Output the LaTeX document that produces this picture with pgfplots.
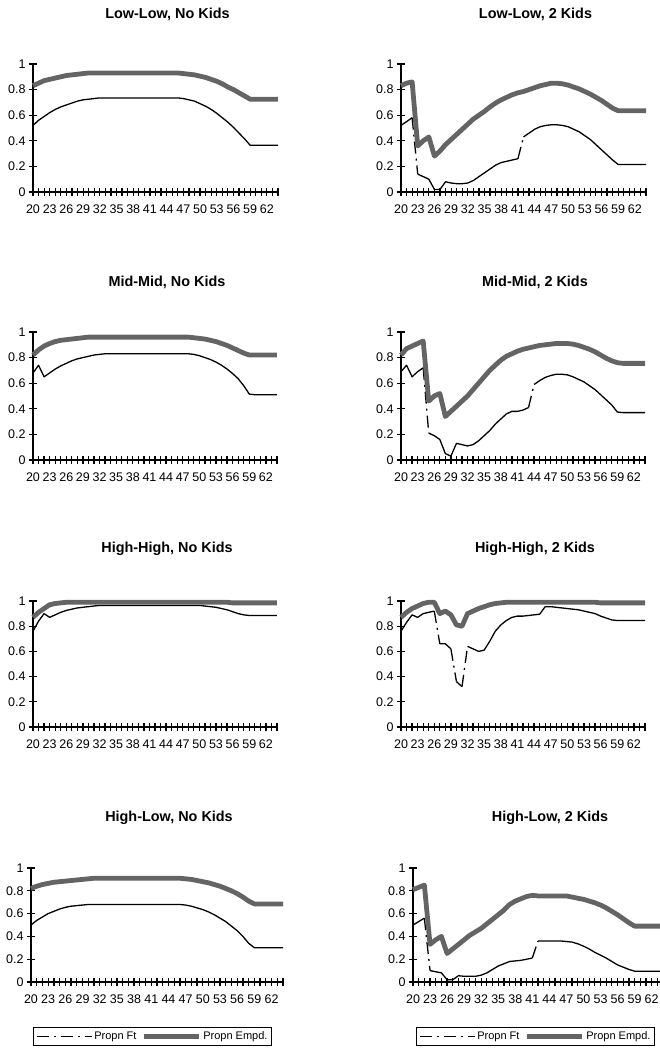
\documentclass[border=0pt]{standalone}
\usepackage{fontspec}
\setmainfont{Liberation Sans}
\usepackage{pgfplots}
\usepackage{pgfplotstable}
\pgfplotsset{compat=1.18}
\definecolor{empgray}{RGB}{100,100,100}

\pgfplotstableread{
age emp ft
20 0.83 0.52
21 0.85 0.56
22 0.87 0.59
23 0.88 0.62
24 0.89 0.645
25 0.90 0.665
26 0.91 0.68
27 0.915 0.695
28 0.92 0.71
29 0.925 0.72
30 0.93 0.725
31 0.93 0.73
32 0.93 0.735
33 0.93 0.735
34 0.93 0.735
35 0.93 0.735
36 0.93 0.735
37 0.93 0.735
38 0.93 0.735
39 0.93 0.735
40 0.93 0.735
41 0.93 0.735
42 0.93 0.735
43 0.93 0.735
44 0.93 0.735
45 0.93 0.735
46 0.93 0.735
47 0.925 0.73
48 0.92 0.72
49 0.915 0.71
50 0.905 0.69
51 0.895 0.67
52 0.88 0.645
53 0.865 0.615
54 0.845 0.58
55 0.82 0.545
56 0.80 0.505
57 0.775 0.46
58 0.75 0.415
59 0.725 0.365
60 0.725 0.365
61 0.725 0.365
62 0.725 0.365
63 0.725 0.365
64 0.725 0.365
}\LLzero

\pgfplotstableread{
age emp ft
20 0.83 0.52
21 0.85 0.55
22 0.86 0.58
23 0.36 0.14
24 0.40 0.12
25 0.43 0.10
26 0.28 0.02
27 0.32 0.02
28 0.37 0.08
29 0.41 0.07
30 0.45 0.065
31 0.49 0.065
32 0.53 0.07
33 0.57 0.09
34 0.60 0.12
35 0.63 0.15
36 0.665 0.18
37 0.695 0.21
38 0.72 0.23
39 0.74 0.24
40 0.76 0.25
41 0.775 0.26
42 0.785 0.43
43 0.80 0.46
44 0.815 0.49
45 0.83 0.51
46 0.84 0.52
47 0.85 0.525
48 0.85 0.525
49 0.845 0.52
50 0.835 0.51
51 0.82 0.49
52 0.805 0.47
53 0.785 0.44
54 0.765 0.41
55 0.74 0.37
56 0.715 0.33
57 0.685 0.29
58 0.655 0.25
59 0.635 0.215
60 0.635 0.215
61 0.635 0.215
62 0.635 0.215
63 0.635 0.215
64 0.635 0.215
}\LLtwo

\pgfplotstableread{
age emp ft
20 0.82 0.68
21 0.86 0.74
22 0.89 0.65
23 0.91 0.68
24 0.925 0.71
25 0.935 0.735
26 0.94 0.755
27 0.945 0.775
28 0.95 0.79
29 0.955 0.80
30 0.96 0.81
31 0.96 0.82
32 0.96 0.825
33 0.96 0.83
34 0.96 0.83
35 0.96 0.83
36 0.96 0.83
37 0.96 0.83
38 0.96 0.83
39 0.96 0.83
40 0.96 0.83
41 0.96 0.83
42 0.96 0.83
43 0.96 0.83
44 0.96 0.83
45 0.96 0.83
46 0.96 0.83
47 0.96 0.83
48 0.96 0.83
49 0.955 0.825
50 0.95 0.815
51 0.945 0.80
52 0.935 0.785
53 0.925 0.765
54 0.91 0.74
55 0.895 0.71
56 0.875 0.675
57 0.855 0.635
58 0.835 0.58
59 0.82 0.515
60 0.82 0.51
61 0.82 0.51
62 0.82 0.51
63 0.82 0.51
64 0.82 0.51
}\MMzero

\pgfplotstableread{
age emp ft
20 0.82 0.69
21 0.87 0.74
22 0.89 0.65
23 0.91 0.69
24 0.93 0.72
25 0.46 0.21
26 0.50 0.19
27 0.52 0.16
28 0.34 0.05
29 0.38 0.03
30 0.42 0.13
31 0.46 0.12
32 0.50 0.11
33 0.55 0.12
34 0.60 0.15
35 0.65 0.19
36 0.70 0.23
37 0.74 0.28
38 0.78 0.32
39 0.81 0.36
40 0.83 0.38
41 0.85 0.38
42 0.865 0.39
43 0.875 0.41
44 0.885 0.59
45 0.895 0.62
46 0.90 0.645
47 0.905 0.66
48 0.91 0.67
49 0.91 0.67
50 0.91 0.665
51 0.905 0.65
52 0.895 0.63
53 0.88 0.61
54 0.865 0.58
55 0.845 0.55
56 0.82 0.51
57 0.795 0.47
58 0.775 0.43
59 0.76 0.375
60 0.755 0.37
61 0.755 0.37
62 0.755 0.37
63 0.755 0.37
64 0.755 0.37
}\MMtwo

\pgfplotstableread{
age emp ft
20 0.87 0.76
21 0.91 0.84
22 0.94 0.90
23 0.97 0.87
24 0.98 0.89
25 0.985 0.91
26 0.99 0.925
27 0.99 0.935
28 0.99 0.945
29 0.99 0.95
30 0.99 0.955
31 0.99 0.96
32 0.99 0.965
33 0.99 0.965
34 0.99 0.965
35 0.99 0.965
36 0.99 0.965
37 0.99 0.965
38 0.99 0.965
39 0.99 0.965
40 0.99 0.965
41 0.99 0.965
42 0.99 0.965
43 0.99 0.965
44 0.99 0.965
45 0.99 0.965
46 0.99 0.965
47 0.99 0.965
48 0.99 0.965
49 0.99 0.965
50 0.99 0.965
51 0.99 0.96
52 0.99 0.955
53 0.99 0.95
54 0.99 0.94
55 0.99 0.93
56 0.985 0.915
57 0.985 0.90
58 0.985 0.89
59 0.985 0.885
60 0.985 0.885
61 0.985 0.885
62 0.985 0.885
63 0.985 0.885
64 0.985 0.885
}\HHzero

\pgfplotstableread{
age emp ft
20 0.87 0.76
21 0.91 0.83
22 0.94 0.89
23 0.96 0.87
24 0.98 0.90
25 0.99 0.91
26 0.99 0.92
27 0.90 0.66
28 0.92 0.66
29 0.89 0.62
30 0.81 0.36
31 0.80 0.32
32 0.90 0.64
33 0.92 0.62
34 0.94 0.60
35 0.955 0.61
36 0.97 0.68
37 0.98 0.76
38 0.985 0.81
39 0.99 0.845
40 0.99 0.87
41 0.99 0.88
42 0.99 0.88
43 0.99 0.885
44 0.99 0.89
45 0.99 0.895
46 0.99 0.955
47 0.99 0.955
48 0.99 0.95
49 0.99 0.945
50 0.99 0.94
51 0.99 0.935
52 0.99 0.93
53 0.99 0.92
54 0.99 0.91
55 0.99 0.90
56 0.985 0.88
57 0.985 0.865
58 0.985 0.85
59 0.985 0.845
60 0.985 0.845
61 0.985 0.845
62 0.985 0.845
63 0.985 0.845
64 0.985 0.845
}\HHtwo

\pgfplotstableread{
age emp ft
20 0.82 0.50
21 0.84 0.54
22 0.855 0.57
23 0.865 0.60
24 0.875 0.62
25 0.88 0.64
26 0.885 0.655
27 0.89 0.665
28 0.895 0.67
29 0.90 0.675
30 0.905 0.68
31 0.91 0.68
32 0.91 0.68
33 0.91 0.68
34 0.91 0.68
35 0.91 0.68
36 0.91 0.68
37 0.91 0.68
38 0.91 0.68
39 0.91 0.68
40 0.91 0.68
41 0.91 0.68
42 0.91 0.68
43 0.91 0.68
44 0.91 0.68
45 0.91 0.68
46 0.91 0.68
47 0.905 0.675
48 0.90 0.665
49 0.89 0.65
50 0.88 0.635
51 0.87 0.615
52 0.855 0.59
53 0.84 0.56
54 0.82 0.53
55 0.80 0.49
56 0.775 0.45
57 0.745 0.40
58 0.71 0.34
59 0.685 0.30
60 0.685 0.30
61 0.685 0.30
62 0.685 0.30
63 0.685 0.30
64 0.685 0.30
}\HLzero

\pgfplotstableread{
age emp ft
20 0.81 0.50
21 0.83 0.53
22 0.85 0.56
23 0.33 0.10
24 0.37 0.09
25 0.40 0.08
26 0.25 0.02
27 0.29 0.02
28 0.33 0.055
29 0.37 0.05
30 0.41 0.05
31 0.44 0.05
32 0.47 0.06
33 0.51 0.08
34 0.55 0.11
35 0.59 0.14
36 0.63 0.16
37 0.68 0.18
38 0.71 0.185
39 0.73 0.19
40 0.75 0.20
41 0.76 0.21
42 0.755 0.36
43 0.755 0.36
44 0.755 0.36
45 0.755 0.36
46 0.755 0.36
47 0.755 0.355
48 0.745 0.35
49 0.735 0.335
50 0.725 0.315
51 0.71 0.29
52 0.695 0.26
53 0.675 0.235
54 0.65 0.21
55 0.62 0.18
56 0.59 0.15
57 0.555 0.13
58 0.52 0.11
59 0.49 0.095
60 0.49 0.095
61 0.49 0.095
62 0.49 0.095
63 0.49 0.095
64 0.49 0.095
}\HLtwo

\pgfplotsset{
  emp/.style={line width=4.8pt, empgray, line join=round, no markers},
  ft/.style={line width=1.3pt, black, line join=round, no markers},
  ftd/.style={ft, dash pattern=on 12pt off 5pt on 2pt off 5pt},
  panel/.style={
    scale only axis, width=245pt, height=128pt,
    xmin=20, xmax=64, ymin=0, ymax=1,
    axis x line=bottom, axis y line=left,
    axis line style={-, line width=1.5pt, black},
    xtick={20,23,26,29,32,35,38,41,44,47,50,53,56,59,62},
    xticklabels={20,23,26,29,32,35,38,41,44,47,50,53,56,59,62},
    minor xtick={20,21,...,64},
    ytick={0,0.2,0.4,0.6,0.8,1},
    yticklabels={0,0.2,0.4,0.6,0.8,1},
    tick align=center, major tick length=8pt, minor tick length=8pt,
    every tick/.style={black, line width=1.2pt},
    every minor tick/.style={black, line width=1.2pt},
    tick label style={font=\fontsize{12.5}{12.5}\selectfont},
    x tick label style={yshift=-5pt},
    /pgf/number format/assume math mode=true,
    title style={font=\bfseries\fontsize{14.4}{14.4}\selectfont, at={(0.5,1)}, anchor=center, yshift=44pt, xshift=12pt},
    clip=false,
    legend image code/.code={\draw[##1] (0pt,0pt) -- (55pt,0pt);},
    legend style={draw=black, line width=1pt, font=\fontsize{11}{11}\selectfont,
      inner sep=2.5pt, legend columns=2, anchor=north west,
      /tikz/every even column/.style={column sep=3pt}},
  },
}

\begin{document}
\begin{tikzpicture}
\useasboundingbox (0pt,0pt) rectangle (660pt,1049pt);

% Row 1
\begin{axis}[panel, at={(33pt,857pt)}, anchor=south west, title={Low-Low, No Kids}]
\addplot[ft] table[x=age,y=ft]{\LLzero};
\addplot[emp] table[x=age,y=emp]{\LLzero};
\end{axis}
\begin{axis}[panel, at={(401pt,857pt)}, anchor=south west, title={Low-Low, 2 Kids}]
\addplot[ft, restrict x to domain=20:22] table[x=age,y=ft]{\LLtwo};
\addplot[ftd, restrict x to domain=22:23] table[x=age,y=ft]{\LLtwo};
\addplot[ft, restrict x to domain=23:41] table[x=age,y=ft]{\LLtwo};
\addplot[ftd, restrict x to domain=41:42] table[x=age,y=ft]{\LLtwo};
\addplot[ft, restrict x to domain=42:64] table[x=age,y=ft]{\LLtwo};
\addplot[emp] table[x=age,y=emp]{\LLtwo};
\end{axis}

% Row 2
\begin{axis}[panel, width=244pt, at={(33pt,589pt)}, anchor=south west, title={Mid-Mid, No Kids}]
\addplot[ft] table[x=age,y=ft]{\MMzero};
\addplot[emp] table[x=age,y=emp]{\MMzero};
\end{axis}
\begin{axis}[panel, width=244pt, at={(401pt,589pt)}, anchor=south west, title={Mid-Mid, 2 Kids}]
\addplot[ft, restrict x to domain=20:24] table[x=age,y=ft]{\MMtwo};
\addplot[ftd, restrict x to domain=24:25] table[x=age,y=ft]{\MMtwo};
\addplot[ft, restrict x to domain=25:43] table[x=age,y=ft]{\MMtwo};
\addplot[ftd, restrict x to domain=43:44] table[x=age,y=ft]{\MMtwo};
\addplot[ft, restrict x to domain=44:64] table[x=age,y=ft]{\MMtwo};
\addplot[emp] table[x=age,y=emp]{\MMtwo};
\end{axis}

% Row 3
\begin{axis}[panel, width=244pt, height=126pt, at={(33pt,322pt)}, anchor=south west, title={High-High, No Kids}, title style={yshift=2pt}]
\addplot[ft] table[x=age,y=ft]{\HHzero};
\addplot[emp] table[x=age,y=emp]{\HHzero};
\end{axis}
\begin{axis}[panel, width=244pt, height=126pt, at={(401pt,322pt)}, anchor=south west, title={High-High, 2 Kids}, title style={yshift=2pt}]
\addplot[ft, restrict x to domain=20:26] table[x=age,y=ft]{\HHtwo};
\addplot[ftd, restrict x to domain=26:27] table[x=age,y=ft]{\HHtwo};
\addplot[ft, restrict x to domain=27:29] table[x=age,y=ft]{\HHtwo};
\addplot[ftd, restrict x to domain=29:30] table[x=age,y=ft]{\HHtwo};
\addplot[ft, restrict x to domain=30:31] table[x=age,y=ft]{\HHtwo};
\addplot[ftd, restrict x to domain=31:32] table[x=age,y=ft]{\HHtwo};
\addplot[ft, restrict x to domain=32:64] table[x=age,y=ft]{\HHtwo};
\addplot[emp] table[x=age,y=emp]{\HHtwo};
\end{axis}

% Row 4
\begin{axis}[panel, width=252pt, height=114pt, at={(31pt,67pt)}, anchor=south west, title={High-Low, No Kids},
  legend style={at={(0,0)}, xshift=2pt, yshift=-45pt}]
\addlegendimage{ftd}
\addlegendentry{Propn Ft}
\addlegendimage{emp}
\addlegendentry{Propn Empd.}
\addplot[ft, forget plot] table[x=age,y=ft]{\HLzero};
\addplot[emp, forget plot] table[x=age,y=emp]{\HLzero};
\end{axis}
\begin{axis}[panel, width=250pt, height=114pt, at={(413pt,67pt)}, anchor=south west, title={High-Low, 2 Kids},
  legend style={at={(0,0)}, xshift=3pt, yshift=-45pt}]
\addlegendimage{ftd}
\addlegendentry{Propn Ft}
\addlegendimage{emp}
\addlegendentry{Propn Empd.}
\addplot[ft, forget plot, restrict x to domain=20:22] table[x=age,y=ft]{\HLtwo};
\addplot[ftd, forget plot, restrict x to domain=22:23] table[x=age,y=ft]{\HLtwo};
\addplot[ft, forget plot, restrict x to domain=23:41] table[x=age,y=ft]{\HLtwo};
\addplot[ftd, forget plot, restrict x to domain=41:42] table[x=age,y=ft]{\HLtwo};
\addplot[ft, forget plot, restrict x to domain=42:64] table[x=age,y=ft]{\HLtwo};
\addplot[emp, forget plot] table[x=age,y=emp]{\HLtwo};
\end{axis}
\end{tikzpicture}
\end{document}
